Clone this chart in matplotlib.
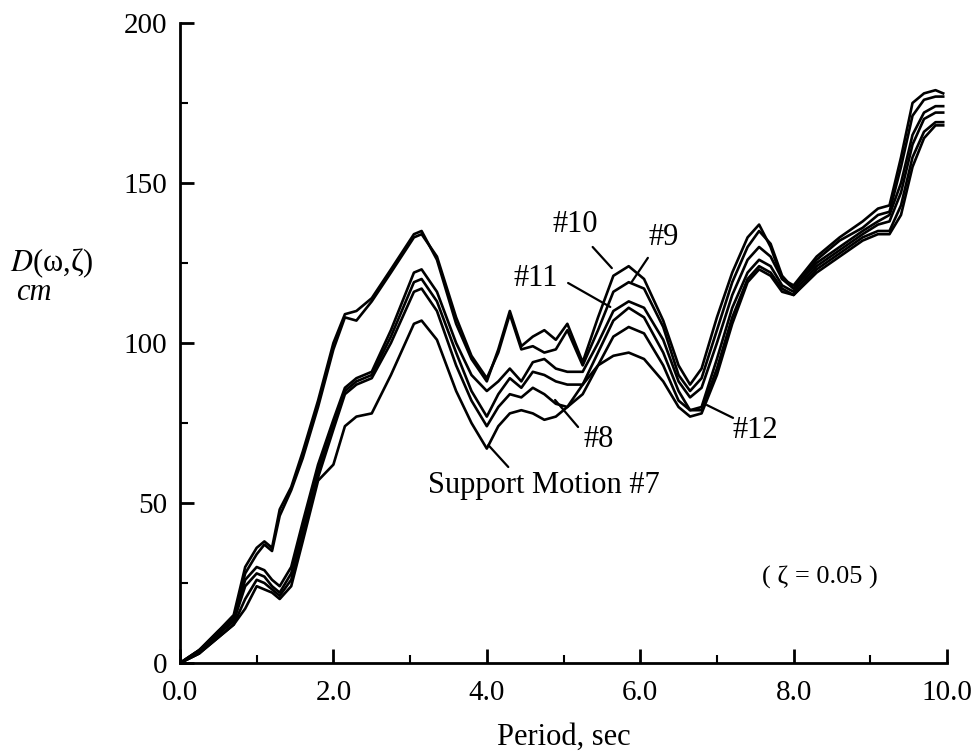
import numpy as np
import matplotlib
matplotlib.use("Agg")
import matplotlib.pyplot as plt
from matplotlib.ticker import MultipleLocator

plt.rcParams.update({
    "font.family": ["Liberation Serif", "DejaVu Serif"],
    "mathtext.fontset": "stix",
    "font.size": 21,
})

# period grid (sec)
period = [0.0, 0.25, 0.5, 0.7, 0.85, 1.0, 1.1, 1.2, 1.3, 1.45, 1.6, 1.8, 2.0, 2.15,
          2.3, 2.5, 2.75, 3.05, 3.15, 3.35, 3.6, 3.8, 4.0, 4.15, 4.3, 4.45, 4.6, 4.75,
          4.9, 5.05, 5.25, 5.45, 5.65, 5.85, 6.05, 6.3, 6.5, 6.65, 6.8, 7.0, 7.2, 7.4,
          7.55, 7.7, 7.85, 8.0, 8.3, 8.6, 8.9, 9.1, 9.25, 9.4, 9.55, 9.7, 9.85, 9.95]

# spectral displacement D (cm), one list per support motion
d10 = [0, 4, 10, 15, 30, 36, 38, 36, 48, 55, 66, 82, 100, 109, 110, 114, 123, 134, 135,
       126, 106, 95, 88, 98, 110, 99, 102, 104, 101, 106, 94, 108, 121, 124, 120, 107, 93,
       87, 92, 108, 122, 133, 137, 130, 120, 118, 127, 133, 138, 142, 143, 158, 175, 178,
       179, 178]
d9 = [0, 4, 10, 14, 28, 34, 37, 35, 46, 54, 64, 80, 98, 108, 107, 113, 122, 133, 134,
      127, 108, 96, 89, 97, 109, 98, 99, 97, 98, 104, 93, 104, 116, 119, 117, 105, 90,
      85, 89, 104, 119, 130, 135, 131, 121, 117, 126, 132, 136, 140, 141, 155, 171, 176,
      177, 177]
d11 = [0, 4, 9, 14, 26, 30, 29, 26, 24, 30, 44, 62, 76, 86, 89, 91, 104, 122, 123, 116,
       100, 90, 85, 88, 92, 88, 94, 95, 92, 91, 91, 100, 110, 113, 111, 101, 88, 83, 86,
       100, 115, 126, 130, 127, 120, 117, 125, 130, 135, 138, 140, 150, 165, 172, 174, 174]
d12 = [0, 3, 9, 13, 24, 28, 27, 24, 22, 28, 42, 60, 75, 85, 88, 90, 102, 119, 120, 113,
       97, 85, 77, 84, 89, 86, 91, 90, 88, 87, 87, 97, 107, 111, 108, 97, 85, 79, 80, 95,
       111, 122, 126, 124, 118, 116, 124, 129, 134, 137, 138, 147, 162, 170, 172, 172]
d8 = [0, 3, 8, 12, 20, 26, 25, 23, 21, 26, 40, 58, 73, 84, 87, 89, 100, 116, 117, 110,
      93, 82, 74, 80, 84, 83, 86, 84, 81, 80, 84, 93, 102, 105, 103, 93, 82, 79, 79, 92,
      108, 120, 124, 122, 117, 115, 123, 128, 133, 135, 135, 143, 158, 166, 169, 169]
d7 = [0, 3, 8, 12, 17, 24, 23, 22, 20, 24, 38, 57, 62, 74, 77, 78, 90, 106, 107, 101,
      85, 75, 67, 74, 78, 79, 78, 76, 77, 80, 87, 93, 96, 97, 95, 88, 80, 77, 78, 90,
      106, 119, 123, 121, 116, 115, 122, 127, 132, 134, 134, 140, 155, 164, 168, 168]

curves = [d7, d8, d9, d10, d11, d12]

fig = plt.figure(figsize=(9.74, 7.53), dpi=100)
ax = fig.add_axes([0.1848, 0.1195, 0.7875, 0.85])

for d in curves:
    ax.plot(period, d, color="black", lw=1.9, solid_joinstyle="round")

ax.set_xlim(0, 10)
ax.set_ylim(0, 200)
ax.xaxis.set_major_locator(MultipleLocator(2))
ax.xaxis.set_minor_locator(MultipleLocator(1))
ax.yaxis.set_major_locator(MultipleLocator(50))
ax.yaxis.set_minor_locator(MultipleLocator(25))
ax.set_xticklabels([f"{v:.1f}" for v in ax.get_xticks()])
ax.tick_params(which="major", direction="in", length=10, width=2, labelsize=21)
ax.tick_params(axis="x", which="major", pad=12)
ax.tick_params(axis="y", which="major", pad=9)
ax.tick_params(which="minor", direction="in", length=6, width=1.5)
for s in ["top", "right"]:
    ax.spines[s].set_visible(False)
for s in ["left", "bottom"]:
    ax.spines[s].set_linewidth(2)

ax.set_xlabel("Period, sec", fontsize=22, labelpad=12)
fig.text(0.010, 0.651, "$D$(ω,ζ)", fontsize=22, ha="left", va="center")
fig.text(0.016, 0.611, "cm", fontsize=22, style="italic", ha="left", va="center")

# curve labels with leader lines
labels = [
    ("#10", (5.15, 136.9), (5.38, 130.0), (5.63, 123.4), "center"),
    ("#9", (6.30, 133.1), (6.10, 126.6), (5.89, 119.1), "center"),
    ("#11", (4.64, 120.3), (5.06, 118.75), (5.61, 111.25), "center"),
    ("#8", (5.46, 69.7), (5.19, 73.75), (4.89, 82.2), "center"),
    ("#12", (7.50, 72.5), (7.21, 76.6), (6.87, 80.6), "center"),
    ("Support Motion #7", (6.26, 55.6), (4.28, 61.25), (4.02, 68.1), "right"),
]
for txt, tpos, start, end, ha in labels:
    ax.text(tpos[0], tpos[1], txt, fontsize=22, ha=ha, va="center")
    ax.annotate("", xy=end, xytext=start,
                arrowprops=dict(arrowstyle="-", lw=1.6, color="black",
                                shrinkA=0, shrinkB=0))

ax.text(8.34, 26.6, "( ζ = 0.05 )", fontsize=19, ha="center", va="center")

fig.savefig("out.png", dpi=100)
